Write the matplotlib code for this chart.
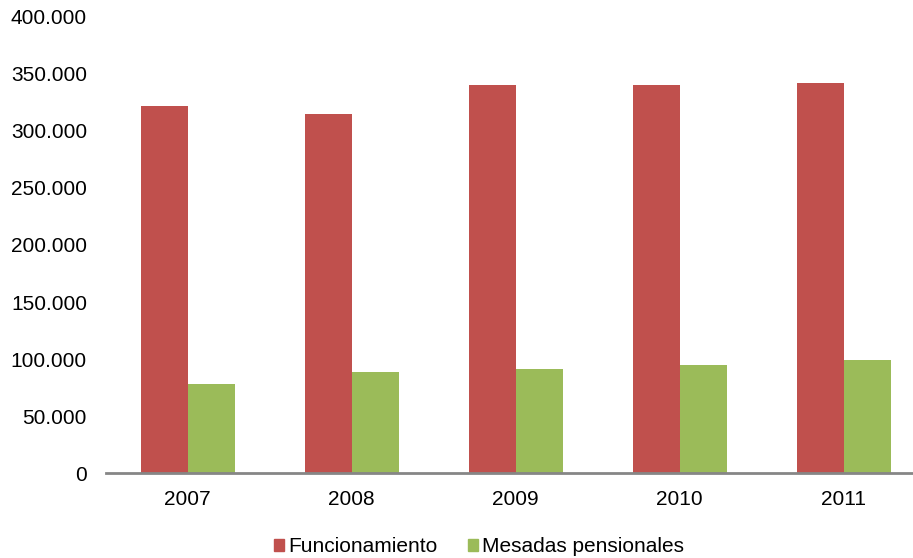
import matplotlib.pyplot as plt
import matplotlib.ticker as mticker
from matplotlib.patches import Patch

years = ["2007", "2008", "2009", "2010", "2011"]
funcionamiento = [321900, 314700, 339800, 339800, 341500]
mesadas = [78300, 89100, 91500, 95000, 99300]

RED = "#C0504D"
GREEN = "#9BBB59"

plt.rcParams["font.family"] = ["Liberation Sans", "DejaVu Sans"]

fig = plt.figure(figsize=(9.13, 5.58), dpi=100)
ax = fig.add_axes([105.7 / 913, (558 - 473.3) / 558, 820 / 913, (473.3 - 16.5) / 558])

x = list(range(len(years)))
w = 47 / 164
ax.bar([i - w / 2 for i in x], funcionamiento, width=w, color=RED, label="Funcionamiento")
ax.bar([i + w / 2 for i in x], mesadas, width=w, color=GREEN, label="Mesadas pensionales")

ax.set_xlim(-0.5, len(years) - 0.5)
ax.set_ylim(0, 400000)
ax.yaxis.set_major_locator(mticker.MultipleLocator(50000))
ax.yaxis.set_major_formatter(mticker.FuncFormatter(lambda v, p: f"{int(v):,}".replace(",", ".")))
ax.set_xticks(x)
ax.set_xticklabels(years)

for s in ["top", "right", "left"]:
    ax.spines[s].set_visible(False)
ax.spines["bottom"].set_color("#868686")
ax.spines["bottom"].set_linewidth(2)
ax.tick_params(axis="both", length=0, labelsize=15, colors="black")
ax.tick_params(axis="y", pad=13.5)
ax.tick_params(axis="x", pad=12)

handles = [Patch(color=RED, label="Funcionamiento"), Patch(color=GREEN, label="Mesadas pensionales")]
fig.legend(handles=handles, loc="center", bbox_to_anchor=(479 / 913, 1 - 547 / 558),
           ncol=2, frameon=False, fontsize=15, handlelength=0.48, handleheight=0.48,
           handletextpad=0.2, columnspacing=1.5)

fig.savefig("out.png", dpi=100)
